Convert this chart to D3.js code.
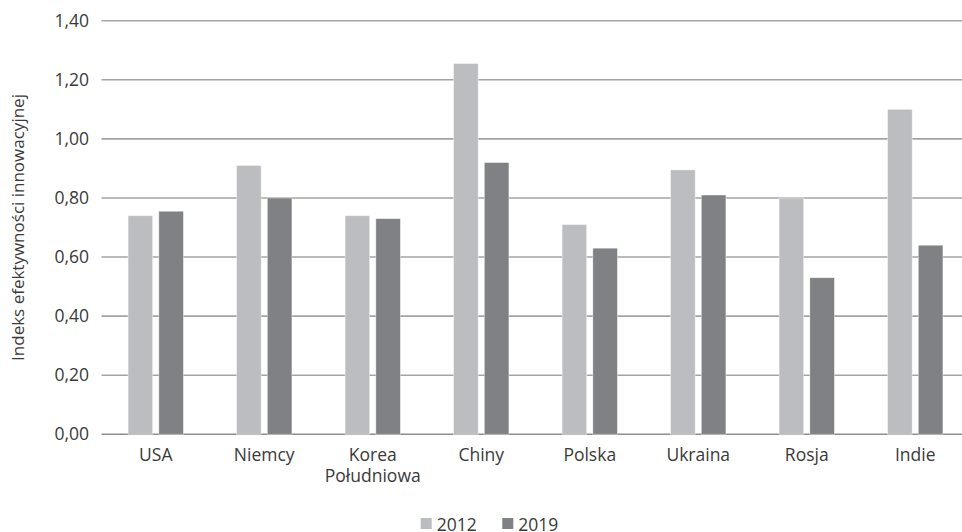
<!DOCTYPE html>
<html lang="pl">
<head>
<meta charset="utf-8">
<script src="https://cdn.jsdelivr.net/npm/d3@7"></script>
<style>
  html, body { margin: 0; padding: 0; background: #fff; }
  svg { display: block; }
  text { font-family: "Open Sans", "Noto Sans", sans-serif; fill: #3a3a3a; }
</style>
</head>
<body>
<svg id="chart" width="962" height="532"></svg>
<script>
// Kraje i wartości indeksu efektywności innowacyjnej
const categories = ["USA", "Niemcy", "Korea\nPołudniowa", "Chiny", "Polska", "Ukraina", "Rosja", "Indie"];
const seriesNames = ["2012", "2019"];
const values2012 = [0.74, 0.91, 0.74, 1.255, 0.71, 0.895, 0.80, 1.10];
const values2019 = [0.755, 0.80, 0.73, 0.92, 0.63, 0.81, 0.53, 0.64];
const yTicks = [0, 0.2, 0.4, 0.6, 0.8, 1.0, 1.2, 1.4];
const seriesColors = ["#bcbdc0", "#808184"];
const yTitle = "Indeks efektywności innowacyjnej";

const seriesValues = [values2012, values2019];
const rows = categories.map((c, i) => ({
  category: c,
  bars: seriesNames.map((s, j) => ({ series: s, value: seriesValues[j][i] }))
}));

const svg = d3.select("#chart");
const plot = { left: 101.5, right: 969.5, top: 20.7, bottom: 434.3 };

const x0 = d3.scaleBand()
  .domain(categories)
  .range([plot.left, plot.right])
  .paddingInner(0.49)
  .paddingOuter(0.245);

const x1 = d3.scaleBand()
  .domain(seriesNames)
  .range([0, x0.bandwidth()])
  .paddingInner(0.2);

const y = d3.scaleLinear()
  .domain([0, 1.4])
  .range([plot.bottom, plot.top]);

const color = d3.scaleOrdinal().domain(seriesNames).range(seriesColors);

const plLocale = d3.formatLocale({ decimal: ",", thousands: " ", grouping: [3], currency: ["", " zł"] });
const fmt = plLocale.format(".2f");

// Linie siatki poziomej
svg.append("g")
  .selectAll("line")
  .data(yTicks)
  .join("line")
  .attr("x1", plot.left)
  .attr("x2", plot.right)
  .attr("y1", d => y(d))
  .attr("y2", d => y(d))
  .attr("stroke", d => d === 0 ? "#8e8e8e" : "#a3a3a3")
  .attr("stroke-width", 1.6);

// Etykiety osi Y
svg.append("g")
  .selectAll("text")
  .data(yTicks)
  .join("text")
  .attr("x", plot.left - 12.5)
  .attr("y", d => y(d))
  .attr("dy", "0.35em")
  .attr("text-anchor", "end")
  .attr("font-size", 17.5)
  .text(d => fmt(d));

// Słupki
const groups = svg.append("g")
  .selectAll("g")
  .data(rows)
  .join("g")
  .attr("transform", d => `translate(${x0(d.category)},0)`);

groups.selectAll("rect")
  .data(d => d.bars)
  .join("rect")
  .attr("x", d => x1(d.series))
  .attr("width", x1.bandwidth())
  .attr("y", d => y(d.value))
  .attr("height", d => y(0) - y(d.value))
  .attr("fill", d => color(d.series))
  .attr("stroke", "#ffffff")
  .attr("stroke-opacity", 0.5)
  .attr("stroke-width", 0.8);

// Etykiety kategorii (z podziałem na wiersze)
const catLabels = svg.append("g")
  .selectAll("text")
  .data(categories)
  .join("text")
  .attr("x", d => x0(d) + x0.bandwidth() / 2)
  .attr("y", 461)
  .attr("text-anchor", "middle")
  .attr("font-size", 17.5);

catLabels.selectAll("tspan")
  .data(d => d.split("\n"))
  .join("tspan")
  .attr("x", function () { return d3.select(this.parentNode).attr("x"); })
  .attr("dy", (d, i) => i === 0 ? 0 : 20.7)
  .text(d => d);

// Tytuł osi Y
svg.append("text")
  .attr("transform", `translate(24,${(plot.top + plot.bottom) / 2}) rotate(-90)`)
  .attr("text-anchor", "middle")
  .attr("font-size", 17)
  .text(yTitle);

// Legenda
const legendItems = [
  { name: seriesNames[0], x: 420.7 },
  { name: seriesNames[1], x: 502.3 }
];
const legend = svg.append("g")
  .selectAll("g")
  .data(legendItems)
  .join("g")
  .attr("transform", d => `translate(${d.x},518)`);

legend.append("rect")
  .attr("width", 11)
  .attr("height", 11)
  .attr("fill", d => color(d.name));

legend.append("text")
  .attr("x", 16)
  .attr("y", 12.7)
  .attr("font-size", 17.5)
  .text(d => d.name);
</script>
</body>
</html>
